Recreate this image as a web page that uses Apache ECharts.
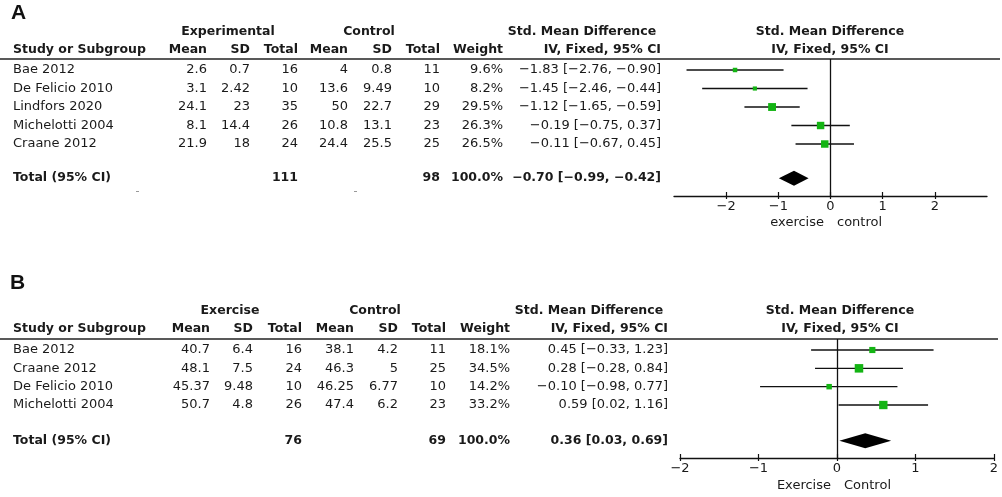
<!DOCTYPE html>
<html>
<head>
<meta charset="utf-8">
<script src="https://cdn.jsdelivr.net/npm/echarts@6/dist/echarts.min.js"></script>
<style>
  html, body { margin: 0; padding: 0; background: #fff; }
  #drew { width: 1002px; height: 497px; }
</style>
</head>
<body>
<div id="drew"></div>
<script>
// ---- panel A data ----
var studiesA = ['Bae 2012', 'De Felicio 2010', 'Lindfors 2020', 'Michelotti 2004', 'Craane 2012'];
var expMeanA = [2.6, 3.1, 24.1, 8.1, 21.9];
var expSdA = [0.7, 2.42, 23, 14.4, 18];
var expNA = [16, 10, 35, 26, 24];
var ctlMeanA = [4, 13.6, 50, 10.8, 24.4];
var ctlSdA = [0.8, 9.49, 22.7, 13.1, 25.5];
var ctlNA = [11, 10, 29, 23, 25];
var weightA = [9.6, 8.2, 29.5, 26.3, 26.5];
var smdA = [-1.83, -1.45, -1.12, -0.19, -0.11];
var loA = [-2.76, -2.46, -1.65, -0.75, -0.67];
var hiA = [-0.90, -0.44, -0.59, 0.37, 0.45];
var totalA = { nExp: 111, nCtl: 98, weight: 100, smd: -0.70, lo: -0.99, hi: -0.42 };

// ---- panel B data ----
var studiesB = ['Bae 2012', 'Craane 2012', 'De Felicio 2010', 'Michelotti 2004'];
var expMeanB = [40.7, 48.1, 45.37, 50.7];
var expSdB = [6.4, 7.5, 9.48, 4.8];
var expNB = [16, 24, 10, 26];
var ctlMeanB = [38.1, 46.3, 46.25, 47.4];
var ctlSdB = [4.2, 5, 6.77, 6.2];
var ctlNB = [11, 25, 10, 23];
var weightB = [18.1, 34.5, 14.2, 33.2];
var smdB = [0.45, 0.28, -0.10, 0.59];
var loB = [-0.33, -0.28, -0.98, 0.02];
var hiB = [1.23, 0.84, 0.77, 1.16];
var totalB = { nExp: 76, nCtl: 69, weight: 100, smd: 0.36, lo: 0.03, hi: 0.69 };

var tickVals = [-2, -1, 0, 1, 2];

var FONT = "'DejaVu Sans', sans-serif";
var TXT = '#1a1a1a';
var GREEN = '#13b413';
var REG = '13px ' + FONT;
var BOLD = 'bold 12.5px ' + FONT;

function minus(s) { return String(s).replace('-', '\u2212'); }
function f2(v) { return minus(v.toFixed(2)); }
function ci(m, l, h) { return f2(m) + ' [' + f2(l) + ', ' + f2(h) + ']'; }

// column right edges (px) per panel
var colsA = [207, 250, 298, 348, 392, 440, 503, 661];
var colsB = [210, 253, 302, 354, 398, 446, 510, 668];

function tableRows(studies, em, es, en, cm, cs, cn, w, m, l, h, tot, totPos) {
  var rows = studies.map(function (s, i) {
    return { bold: false, cells: [s, em[i], es[i], en[i], cm[i], cs[i], cn[i], w[i].toFixed(1) + '%', ci(m[i], l[i], h[i])], pos: i };
  });
  rows.push({ bold: true, cells: ['Total (95% CI)', '', '', tot.nExp, '', '', tot.nCtl, tot.weight.toFixed(1) + '%', ci(tot.smd, tot.lo, tot.hi)], pos: totPos });
  return rows;
}

var rowsA = tableRows(studiesA, expMeanA, expSdA, expNA, ctlMeanA, ctlSdA, ctlNA, weightA, smdA, loA, hiA, totalA, 5.85);
var rowsB = tableRows(studiesB, expMeanB, expSdB, expNB, ctlMeanB, ctlSdB, ctlNB, weightB, smdB, loB, hiB, totalB, 4.95);

function tableSeries(rows, cols, idx) {
  return {
    type: 'custom', xAxisIndex: idx, yAxisIndex: idx, silent: true, clip: false,
    data: rows.map(function (r) { return [0, r.pos]; }),
    renderItem: function (params, api) {
      var r = rows[params.dataIndex];
      var y = api.coord([0, api.value(1)])[1];
      var font = r.bold ? BOLD : REG;
      var kids = [{ type: 'text', x: 13, y: y, style: { text: r.cells[0], font: font, fill: TXT, textAlign: 'left', textVerticalAlign: 'middle' } }];
      for (var c = 1; c < r.cells.length; c++) {
        if (r.cells[c] === '') continue;
        kids.push({ type: 'text', x: cols[c - 1], y: y, style: { text: String(r.cells[c]), font: font, fill: TXT, textAlign: 'right', textVerticalAlign: 'middle' } });
      }
      return { type: 'group', children: kids };
    }
  };
}

function forestSeries(m, l, h, w, idx) {
  return {
    type: 'custom', xAxisIndex: idx, yAxisIndex: idx, silent: true, clip: false,
    data: m.map(function (v, i) { return [l[i], h[i], v, i, w[i]]; }),
    encode: { x: [0, 1, 2], y: 3 },
    renderItem: function (params, api) {
      var a = api.coord([api.value(0), api.value(3)]);
      var b = api.coord([api.value(1), api.value(3)]);
      var c = api.coord([api.value(2), api.value(3)]);
      var s = 1.45 * Math.sqrt(api.value(4));
      return { type: 'group', children: [
        { type: 'line', shape: { x1: a[0], y1: a[1], x2: b[0], y2: b[1] }, style: { stroke: '#111', lineWidth: 1.3 } },
        { type: 'rect', shape: { x: c[0] - s / 2, y: c[1] - s / 2, width: s, height: s }, style: { fill: GREEN } }
      ] };
    },
    markLine: {
      silent: true, symbol: 'none', animation: false, label: { show: false },
      lineStyle: { color: '#111', width: 1.3, type: 'solid' },
      data: [{ xAxis: 0 }]
    }
  };
}

function diamondSeries(tot, pos, idx) {
  return {
    type: 'custom', xAxisIndex: idx, yAxisIndex: idx, silent: true, clip: false,
    data: [[tot.lo, tot.hi, tot.smd, pos]],
    encode: { x: [0, 1, 2], y: 3 },
    renderItem: function (params, api) {
      var a = api.coord([api.value(0), api.value(3)]);
      var b = api.coord([api.value(1), api.value(3)]);
      var c = api.coord([api.value(2), api.value(3)]);
      return { type: 'polygon', shape: { points: [[a[0], a[1]], [c[0], c[1] - 7.5], [b[0], b[1]], [c[0], c[1] + 7.5]] }, style: { fill: '#000' } };
    }
  };
}

function xAxisFor(idx, min, max) {
  return {
    gridIndex: idx, type: 'value', min: min, max: max, interval: 1, position: 'bottom',
    splitLine: { show: false },
    axisLine: { show: true, onZero: false, lineStyle: { color: '#111', width: 1.3 } },
    axisTick: { show: true, length: 3, customValues: tickVals, lineStyle: { color: '#111', width: 1.2 } },
    axisLabel: { customValues: tickVals, margin: 4, color: TXT, fontSize: 13, fontFamily: FONT, formatter: function (v) { return minus(v); } }
  };
}

// companion axis: only the upward half of each tick
function tickAxisFor(idx, min, max) {
  return {
    gridIndex: idx, type: 'value', min: min, max: max, interval: 1, position: 'bottom',
    splitLine: { show: false },
    axisLine: { show: false, onZero: false },
    axisTick: { show: true, inside: true, length: 4, customValues: tickVals, lineStyle: { color: '#111', width: 1.2 } },
    axisLabel: { show: false }
  };
}

function txt(x, y, s, align, bold) {
  return { type: 'text', x: x, y: y, silent: true, style: { text: s, font: bold ? BOLD : REG, fill: TXT, textAlign: align, textVerticalAlign: 'middle' } };
}

function headers(y1, y2, cols, groupName, groupX, ctlX, smdCenter, plotCenter) {
  return [
    txt(groupX, y1, groupName, 'center', true),
    txt(ctlX, y1, 'Control', 'center', true),
    txt(smdCenter, y1, 'Std. Mean Difference', 'center', true),
    txt(plotCenter, y1, 'Std. Mean Difference', 'center', true),
    txt(plotCenter, y2, 'IV, Fixed, 95% CI', 'center', true),
    txt(13, y2, 'Study or Subgroup', 'left', true),
    txt(cols[0], y2, 'Mean', 'right', true),
    txt(cols[1], y2, 'SD', 'right', true),
    txt(cols[2], y2, 'Total', 'right', true),
    txt(cols[3], y2, 'Mean', 'right', true),
    txt(cols[4], y2, 'SD', 'right', true),
    txt(cols[5], y2, 'Total', 'right', true),
    txt(cols[6], y2, 'Weight', 'right', true),
    txt(cols[7], y2, 'IV, Fixed, 95% CI', 'right', true)
  ];
}

var graphics = [
  { type: 'text', x: 11, y: 13, style: { text: 'A', font: 'bold 21px "Liberation Sans", Arial, sans-serif', fill: '#111', textVerticalAlign: 'middle' } },
  { type: 'text', x: 10, y: 283, style: { text: 'B', font: 'bold 21px "Liberation Sans", Arial, sans-serif', fill: '#111', textVerticalAlign: 'middle' } },
  { type: 'line', shape: { x1: 0, y1: 59, x2: 1000, y2: 59 }, style: { stroke: '#222', lineWidth: 1.3 } },
  { type: 'line', shape: { x1: 0, y1: 339, x2: 998, y2: 339 }, style: { stroke: '#222', lineWidth: 1.3 } },
  { type: 'rect', shape: { x: 136, y: 191, width: 3, height: 1 }, style: { fill: '#999' } },
  { type: 'rect', shape: { x: 354, y: 191, width: 3, height: 1 }, style: { fill: '#999' } },
  txt(824, 223, 'exercise', 'right', false),
  txt(837, 223, 'control', 'left', false),
  txt(831, 486, 'Exercise', 'right', false),
  txt(844, 486, 'Control', 'left', false)
].concat(headers(32, 50, colsA, 'Experimental', 228, 369, 582, 830))
 .concat(headers(311, 329, colsB, 'Exercise', 230, 375, 589, 840));

var myChart = echarts.init(document.getElementById('drew'));
var option = {
  animation: false,
  backgroundColor: '#fff',
  grid: [
    { left: 674, right: 1002 - 987, top: 59, height: 137 },
    { left: 680, right: 1002 - 994, top: 339, height: 119 }
  ],
  xAxis: [xAxisFor(0, -3, 3), xAxisFor(1, -2, 2), tickAxisFor(0, -3, 3), tickAxisFor(1, -2, 2)],
  yAxis: [
    { gridIndex: 0, type: 'value', inverse: true, min: -0.595, max: 6.81, show: false },
    { gridIndex: 1, type: 'value', inverse: true, min: -0.6, max: 5.89, show: false }
  ],
  graphic: graphics,
  series: [
    tableSeries(rowsA, colsA, 0),
    forestSeries(smdA, loA, hiA, weightA, 0),
    diamondSeries(totalA, rowsA[rowsA.length - 1].pos, 0),
    tableSeries(rowsB, colsB, 1),
    forestSeries(smdB, loB, hiB, weightB, 1),
    diamondSeries(totalB, rowsB[rowsB.length - 1].pos, 1)
  ]
};
myChart.setOption(option);
window.addEventListener('resize', function () { myChart.resize(); });
</script>
</body>
</html>
